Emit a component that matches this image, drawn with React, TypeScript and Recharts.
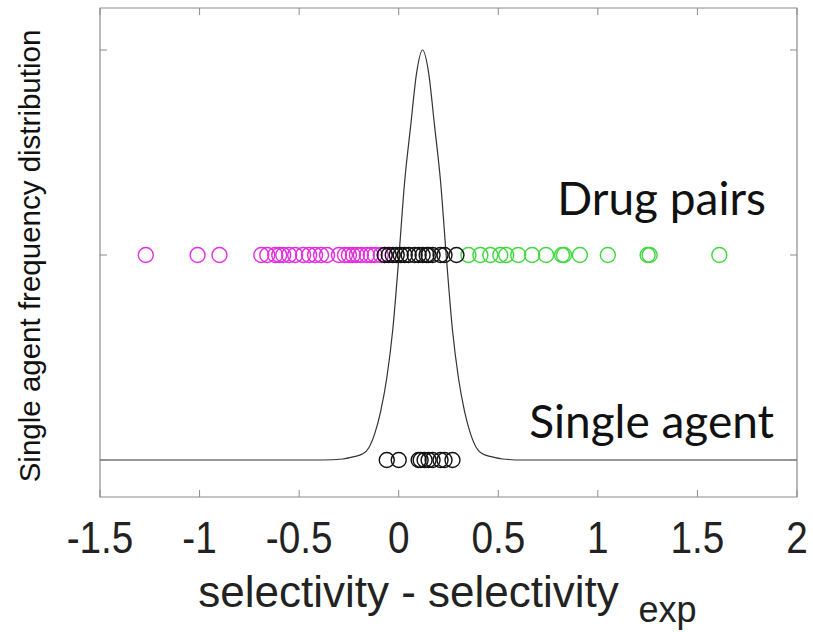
import React from "react";
import { ComposedChart, Line, Scatter, XAxis, YAxis, ReferenceDot, ReferenceArea } from "recharts";

// x positions of each drug-pair / single-agent point (selectivity - selectivity_exp)
const magentaPairs = [
  -1.27, -1.01, -0.9, -0.69, -0.66, -0.62, -0.6, -0.58, -0.55, -0.52, -0.48, -0.45, -0.42, -0.39,
  -0.36, -0.3, -0.27, -0.25, -0.23, -0.21, -0.19, -0.16, -0.14, -0.12, -0.09, -0.07,
];
const blackPairs = [-0.07, -0.05, -0.03, -0.01, 0.01, 0.03, 0.05, 0.08, 0.1, 0.12, 0.14, 0.15, 0.17, 0.21, 0.23, 0.29];
const greenPairs = [0.35, 0.41, 0.46, 0.51, 0.54, 0.6, 0.67, 0.74, 0.82, 0.83, 0.91, 1.05, 1.25, 1.26, 1.61];
const singleAgent = [-0.06, 0.0, 0.1, 0.11, 0.13, 0.15, 0.17, 0.21, 0.23, 0.27];

// single agent frequency distribution curve
const curveX = [
  -1.5, -0.38, -0.28, -0.23, -0.18, -0.15, -0.12, -0.09, -0.06, -0.03, 0, 0.03, 0.06, 0.09, 0.12,
  0.15, 0.18, 0.21, 0.24, 0.27, 0.3, 0.33, 0.36, 0.39, 0.42, 0.47, 0.52, 0.62, 2,
];
const curveY = [
  0, 0, 0.005, 0.015, 0.03, 0.06, 0.13, 0.24, 0.4, 0.634, 0.98, 1.36, 1.63, 1.89, 2.0,
  1.89, 1.63, 1.36, 0.98, 0.634, 0.4, 0.24, 0.13, 0.06, 0.03, 0.015, 0.005, 0, 0,
];

const xTicks = [-1.5, -1, -0.5, 0, 0.5, 1, 1.5, 2];
const yTicks = [0, 1, 2];
const X_DOMAIN: [number, number] = [-1.5, 2];
const Y_DOMAIN: [number, number] = [-0.1805, 2.205];

const PAIR_ROW = 1;
const SINGLE_ROW = 0;

const curve = curveX.map((x, i) => ({ x, y: curveY[i] }));
const row = (xs: number[], y: number) => xs.map((x) => ({ x, y }));

const FRAME = "#8c8c8c";
const TICK_LEN = 7;

const ring = (color: string) => (props: any) =>
  <circle cx={props.cx} cy={props.cy} r={7.5} fill="none" stroke={color} strokeWidth={1.4} />;

const BottomTick = (props: any) => {
  const { x, y, payload } = props;
  return (
    <g>
      <line x1={x} x2={x} y1={y} y2={y - TICK_LEN} stroke={FRAME} />
      <text
        transform={`translate(${x},${y + 56}) scale(0.88,1)`}
        textAnchor="middle"
        fontFamily="Liberation Sans, Arial, sans-serif"
        fontSize={44}
        fill="#222"
      >
        {payload.value}
      </text>
    </g>
  );
};

const TopTick = (props: any) => (
  <line x1={props.x} x2={props.x} y1={props.y} y2={props.y + TICK_LEN} stroke={FRAME} />
);
const LeftTick = (props: any) => (
  <line x1={props.x} x2={props.x + TICK_LEN} y1={props.y} y2={props.y} stroke={FRAME} />
);
const RightTick = (props: any) => (
  <line x1={props.x} x2={props.x - TICK_LEN} y1={props.y} y2={props.y} stroke={FRAME} />
);

const XTitle = (props: any) => {
  const { viewBox } = props;
  const cx = viewBox.x + viewBox.width / 2;
  return (
    <g fontFamily="Liberation Sans, Arial, sans-serif" fill="#222">
      <text x={cx - 40} y={607} textAnchor="middle" fontSize={44}>
        selectivity - selectivity
      </text>
      <text x={cx + 190} y={622} textAnchor="start" fontSize={36}>
        exp
      </text>
    </g>
  );
};

const YTitle = () => (
  <text
    transform="translate(40,256) rotate(-90)"
    textAnchor="middle"
    fontFamily="Liberation Sans, Arial, sans-serif"
    fontSize={29.5}
    fill="#111"
  >
    Single agent frequency distribution
  </text>
);

const Note = (text: string) => (props: any) => {
  const { viewBox } = props;
  return (
    <text
      x={viewBox.cx ?? viewBox.x}
      y={viewBox.cy ?? viewBox.y}
      textAnchor="middle"
      dominantBaseline="central"
      fontFamily="Lato, Open Sans, sans-serif"
      fontSize={46}
      fill="#111"
    >
      {text}
    </text>
  );
};

export default function App() {
  return (
    <div style={{ position: "absolute", left: 0, top: 0, width: 813, height: 632, background: "#fff" }}>
      <ComposedChart width={813} height={632} margin={{ top: 7, right: 15, bottom: 75, left: 99 }}>
        <XAxis
          xAxisId="b"
          type="number"
          dataKey="x"
          domain={X_DOMAIN}
          ticks={xTicks}
          interval={0}
          allowDataOverflow
          height={60}
          axisLine={false}
          tickLine={false}
          tickSize={0}
          tickMargin={0}
          tick={BottomTick}
          label={XTitle}
        />
        <XAxis
          xAxisId="t"
          orientation="top"
          type="number"
          dataKey="x"
          domain={X_DOMAIN}
          ticks={xTicks}
          interval={0}
          allowDataOverflow
          height={1}
          axisLine={false}
          tickLine={false}
          tickSize={0}
          tickMargin={0}
          tick={TopTick}
        />
        <YAxis
          yAxisId="l"
          type="number"
          dataKey="y"
          domain={Y_DOMAIN}
          ticks={yTicks}
          interval={0}
          allowDataOverflow
          width={1}
          axisLine={false}
          tickLine={false}
          tickSize={0}
          tickMargin={0}
          tick={LeftTick}
          label={YTitle}
        />
        <YAxis
          yAxisId="r"
          orientation="right"
          type="number"
          dataKey="y"
          domain={Y_DOMAIN}
          ticks={yTicks}
          interval={0}
          allowDataOverflow
          width={1}
          axisLine={false}
          tickLine={false}
          tickSize={0}
          tickMargin={0}
          tick={RightTick}
        />
        <ReferenceArea
          xAxisId="b"
          yAxisId="l"
          x1={X_DOMAIN[0]}
          x2={X_DOMAIN[1]}
          y1={Y_DOMAIN[0]}
          y2={Y_DOMAIN[1]}
          fill="none"
          stroke={FRAME}
          strokeWidth={1.2}
          fillOpacity={0}
        />
        <Scatter xAxisId="b" yAxisId="l" data={row(magentaPairs, PAIR_ROW)} shape={ring("#e22de2")} isAnimationActive={false} />
        <Scatter xAxisId="b" yAxisId="l" data={row(greenPairs, PAIR_ROW)} shape={ring("#3fd83f")} isAnimationActive={false} />
        <Scatter xAxisId="b" yAxisId="l" data={row(blackPairs, PAIR_ROW)} shape={ring("#111")} isAnimationActive={false} />
        <Scatter xAxisId="b" yAxisId="l" data={row(singleAgent, SINGLE_ROW)} shape={ring("#111")} isAnimationActive={false} />
        <Line
          xAxisId="b"
          yAxisId="l"
          data={curve}
          dataKey="y"
          type="monotone"
          stroke="#333"
          strokeWidth={1.2}
          dot={false}
          isAnimationActive={false}
        />
        <ReferenceDot xAxisId="b" yAxisId="l" x={1.32} y={1.28} r={0} stroke="none" label={Note("Drug pairs")} />
        <ReferenceDot xAxisId="b" yAxisId="l" x={1.27} y={0.195} r={0} stroke="none" label={Note("Single agent")} />
      </ComposedChart>
    </div>
  );
}
